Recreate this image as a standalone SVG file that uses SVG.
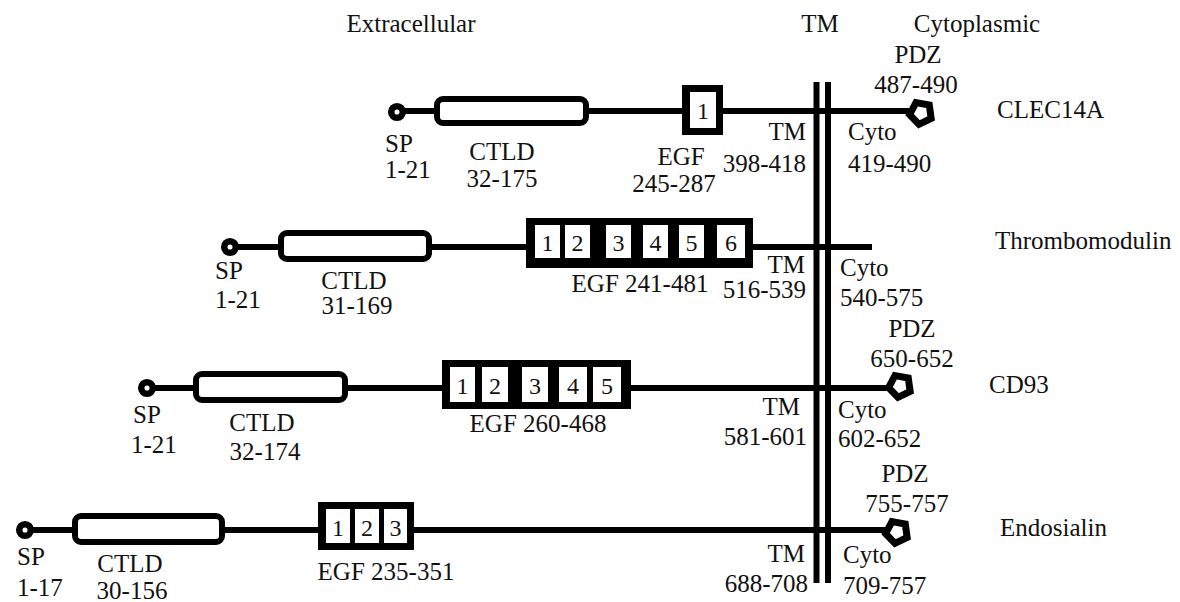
<svg xmlns="http://www.w3.org/2000/svg" width="1180" height="602" viewBox="0 0 1180 602" font-family="'Liberation Serif', 'Times New Roman', 'DejaVu Serif', serif">
<defs>
<style>
text{font-family:'Liberation Serif','Times New Roman','DejaVu Serif',serif;font-size:25px;fill:#111}
.m{text-anchor:middle}
.e{text-anchor:end}
.d{font-size:24px;text-anchor:middle}
.ln{stroke:#000;stroke-width:6;fill:none}
.tm{stroke:#000;stroke-width:6;fill:none}
.sp{fill:#fff;stroke:#000;stroke-width:6.5}
.ctld{fill:#fff;stroke:#000;stroke-width:6}
.egf{fill:#000}
.cell{fill:#fff}
.pdz{fill:#fff;stroke:#000;stroke-width:7;stroke-linejoin:miter}
</style>
<polygon id="pent" points="0,11.5 -10.94,3.55 -6.76,-9.3 6.76,-9.3 10.94,3.55"/>
</defs>
<rect width="1180" height="602" fill="#fff"/>

<g id="headers">
<text x="411" y="32" class="m">Extracellular</text>
<text x="820" y="32" class="m">TM</text>
<text x="977" y="32" class="m">Cytoplasmic</text>
</g>

<g id="membrane">
<line class="tm" x1="816.5" y1="82" x2="816.5" y2="583"/>
<line class="tm" x1="828" y1="82" x2="828" y2="583"/>
</g>

<g id="connectors">
<line class="ln" x1="397" y1="111" x2="916" y2="111"/>
<line class="ln" x1="230" y1="247" x2="872" y2="247"/>
<line class="ln" x1="147" y1="388" x2="894" y2="388"/>
<line class="ln" x1="25" y1="530" x2="891" y2="530"/>
</g>

<g id="clec14a">
<g id="clec14a-sp"><circle class="sp" cx="397" cy="112" r="5.8"/>
<text x="385" y="152">SP</text><text x="385" y="178">1-21</text></g>
<g id="clec14a-ctld"><rect class="ctld" x="437" y="99" width="149" height="24" rx="6"/>
<text x="502" y="160" class="m">CTLD</text><text x="502" y="187" class="m">32-175</text></g>
<g id="clec14a-egf"><rect class="egf" x="682" y="85" width="41" height="50"/>
<rect class="cell" x="690" y="92" width="26" height="36"/>
<text x="703" y="119" class="d">1</text>
<text x="681" y="165" class="m">EGF</text><text x="674" y="192" class="m">245-287</text></g>
<g id="clec14a-tm"><text x="806" y="140" class="e">TM</text><text x="806" y="172" class="e">398-418</text></g>
<g id="clec14a-cyto"><text x="848" y="140">Cyto</text><text x="848" y="172">419-490</text></g>
<g id="clec14a-pdz"><use href="#pent" class="pdz" transform="translate(921,113) rotate(10)"/>
<text x="918" y="63" class="m">PDZ</text><text x="916" y="93" class="m">487-490</text></g>
<text x="997" y="118">CLEC14A</text>
</g>

<g id="thrombomodulin">
<g id="tm-sp"><circle class="sp" cx="230" cy="247" r="5.8"/>
<text x="215" y="279">SP</text><text x="215" y="308">1-21</text></g>
<g id="tm-ctld"><rect class="ctld" x="281" y="233" width="148" height="26" rx="6"/>
<text x="354" y="289" class="m">CTLD</text><text x="357" y="314" class="m">31-169</text></g>
<g id="tm-egf"><rect class="egf" x="526" y="218" width="227" height="50"/>
<rect class="cell" x="535" y="225" width="25" height="33"/>
<rect class="cell" x="565" y="225" width="25" height="33"/>
<rect class="cell" x="606" y="225" width="25" height="33"/>
<rect class="cell" x="643" y="225" width="25" height="33"/>
<rect class="cell" x="679" y="225" width="25" height="33"/>
<rect class="cell" x="717" y="225" width="28" height="33"/>
<text x="547.5" y="251" class="d">1</text>
<text x="577.5" y="251" class="d">2</text>
<text x="618.5" y="251" class="d">3</text>
<text x="655.5" y="251" class="d">4</text>
<text x="691.5" y="251" class="d">5</text>
<text x="731" y="251" class="d">6</text>
<text x="640" y="292" class="m">EGF 241-481</text></g>
<g id="tm-tm"><text x="805" y="273" class="e">TM</text><text x="806" y="298" class="e">516-539</text></g>
<g id="tm-cyto"><text x="840" y="276">Cyto</text><text x="840" y="306">540-575</text></g>
<text x="995" y="249">Thrombomodulin</text>
</g>

<g id="cd93">
<g id="cd93-sp"><circle class="sp" cx="147" cy="388" r="5.8"/>
<text x="133" y="423">SP</text><text x="131" y="453">1-21</text></g>
<g id="cd93-ctld"><rect class="ctld" x="196" y="374" width="149" height="26" rx="6"/>
<text x="262" y="431" class="m">CTLD</text><text x="265" y="460" class="m">32-174</text></g>
<g id="cd93-egf"><rect class="egf" x="442" y="360" width="189" height="49"/>
<rect class="cell" x="450" y="367" width="25" height="35"/>
<rect class="cell" x="482" y="367" width="26" height="35"/>
<rect class="cell" x="522" y="367" width="26" height="35"/>
<rect class="cell" x="559" y="367" width="28" height="35"/>
<rect class="cell" x="593" y="367" width="28" height="35"/>
<text x="462.5" y="394" class="d">1</text>
<text x="495" y="394" class="d">2</text>
<text x="535" y="394" class="d">3</text>
<text x="573" y="394" class="d">4</text>
<text x="607" y="394" class="d">5</text>
<text x="538" y="432" class="m">EGF 260-468</text></g>
<g id="cd93-tm"><text x="800" y="415" class="e">TM</text><text x="807" y="445" class="e">581-601</text></g>
<g id="cd93-cyto"><text x="838" y="418">Cyto</text><text x="838" y="447">602-652</text></g>
<g id="cd93-pdz"><use href="#pent" class="pdz" transform="translate(900,386) rotate(10)"/>
<text x="912" y="337" class="m">PDZ</text><text x="912" y="367" class="m">650-652</text></g>
<text x="989" y="393">CD93</text>
</g>

<g id="endosialin">
<g id="endo-sp"><circle class="sp" cx="25" cy="530" r="5.8"/>
<text x="17" y="565">SP</text><text x="17" y="596">1-17</text></g>
<g id="endo-ctld"><rect class="ctld" x="75" y="516" width="147" height="26" rx="6"/>
<text x="130" y="572" class="m">CTLD</text><text x="132" y="599" class="m">30-156</text></g>
<g id="endo-egf"><rect class="egf" x="318" y="502" width="96" height="48"/>
<rect class="cell" x="326" y="509" width="24" height="34"/>
<rect class="cell" x="355" y="509" width="24" height="34"/>
<rect class="cell" x="384" y="509" width="23" height="34"/>
<text x="338" y="536" class="d">1</text>
<text x="367" y="536" class="d">2</text>
<text x="395.5" y="536" class="d">3</text>
<text x="386" y="580" class="m">EGF 235-351</text></g>
<g id="endo-tm"><text x="805" y="562" class="e">TM</text><text x="808" y="592" class="e">688-708</text></g>
<g id="endo-cyto"><text x="843" y="563">Cyto</text><text x="843" y="594">709-757</text></g>
<g id="endo-pdz"><use href="#pent" class="pdz" transform="translate(897,532) rotate(10)"/>
<text x="905" y="482" class="m">PDZ</text><text x="907" y="512" class="m">755-757</text></g>
<text x="1000" y="536">Endosialin</text>
</g>
</svg>
